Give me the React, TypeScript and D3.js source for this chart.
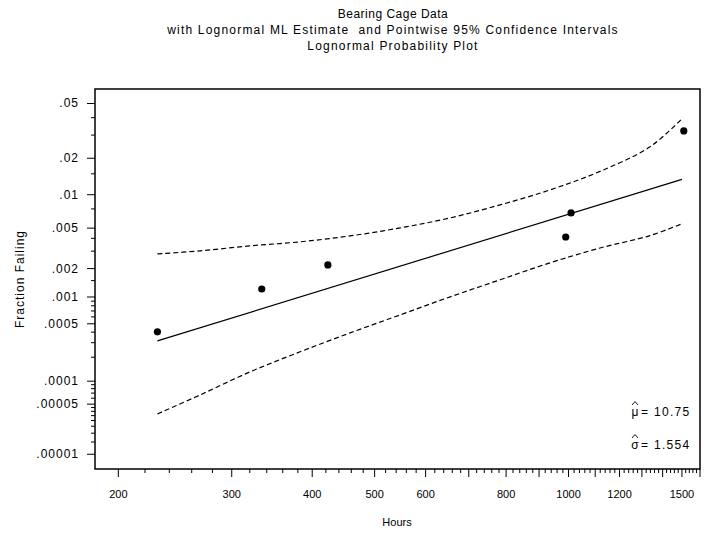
import React from "react";
import * as d3 from "d3";

// ---- data (hours, fraction failing) ----
const failureHours = [230, 334, 423, 990, 1009, 1510];
const failureFraction = [0.000403, 0.00122, 0.00218, 0.00412, 0.00691, 0.0322];

// ML fit endpoints (lognormal, mu=10.75, sigma=1.554)
const fitHours = [230, 1500];
const fitFraction = [0.000315, 0.0135];

// pointwise 95% confidence bands
const bandHours = [230, 268, 320, 383, 458, 548, 655, 783, 936, 1119, 1338, 1500];
const upperFraction = [0.00282, 0.00302, 0.00338, 0.0037, 0.00422, 0.00503, 0.00622, 0.00815, 0.011, 0.0157, 0.0245, 0.0393];
const lowerFraction = [0.0000369, 0.0000663, 0.000131, 0.000233, 0.000392, 0.000633, 0.001004, 0.00153, 0.00229, 0.00322, 0.00425, 0.00549];

// ticks
const xLabelTicks = [200, 300, 400, 500, 600, 800, 1000, 1200, 1500];
const xMajorTicks = d3.range(200, 1601, 100);
const xMinorTicks = d3.range(200, 1601, 20).filter((v) => v % 100 !== 0);
const yLabelTicks = [0.05, 0.02, 0.01, 0.005, 0.002, 0.001, 0.0005, 0.0001, 0.00005, 0.00001];
const yLabelText = [".05", ".02", ".01", ".005", ".002", ".001", ".0005", ".0001", ".00005", ".00001"];
const yMinorTicks = [0.04, 0.03, 0.015, 0.0075, 0.004, 0.003, 0.0015, 0.0009, 0.0008, 0.0007, 0.0006, 0.0004, 0.0003, 0.0002, 0.00009, 0.00008, 0.00007, 0.00006, 0.000045, 0.00004, 0.000035, 0.00003, 0.000025, 0.00002, 0.000015];

const titleLines = ["Bearing Cage Data", "with Lognormal ML Estimate  and Pointwise 95% Confidence Intervals", "Lognormal Probability Plot"];
const titleSpacing = [0.5, 1.2, 1.2];
const xTitle = "Hours";
const yTitle = "Fraction Failing";
const muText = "= 10.75";
const sigmaText = "= 1.554";

// inverse standard normal CDF (Acklam) - used for the probability axis transform
function qnorm(p: number): number {
  const a = [-3.969683028665376e1, 2.209460984245205e2, -2.759285104469687e2, 1.38357751867269e2, -3.066479806614716e1, 2.506628277459239];
  const b = [-5.447609879822406e1, 1.615858368580409e2, -1.556989798598866e2, 6.680131188771972e1, -1.328068155288572e1];
  const c = [-7.784894002430293e-3, -3.223964580411365e-1, -2.400758277161838, -2.549732539343734, 4.374664141464968, 2.938163982698783];
  const d = [7.784695709041462e-3, 3.224671290700398e-1, 2.445134137142996, 3.754408661907416];
  const plow = 0.02425;
  if (p < plow) {
    const q = Math.sqrt(-2 * Math.log(p));
    return (((((c[0] * q + c[1]) * q + c[2]) * q + c[3]) * q + c[4]) * q + c[5]) / ((((d[0] * q + d[1]) * q + d[2]) * q + d[3]) * q + 1);
  }
  if (p <= 1 - plow) {
    const q = p - 0.5, r = q * q;
    return ((((((a[0] * r + a[1]) * r + a[2]) * r + a[3]) * r + a[4]) * r + a[5]) * q) / (((((b[0] * r + b[1]) * r + b[2]) * r + b[3]) * r + b[4]) * r + 1);
  }
  const q = Math.sqrt(-2 * Math.log(1 - p));
  return -(((((c[0] * q + c[1]) * q + c[2]) * q + c[3]) * q + c[4]) * q + c[5]) / ((((d[0] * q + d[1]) * q + d[2]) * q + d[3]) * q + 1);
}

const W = 714, H = 538;
const L = 95, R = 700, T = 89, B = 469;
const FONT = "'Liberation Sans', Arial, Helvetica, sans-serif";

export default function App() {
  const x = d3.scaleLog().domain([184, 1600]).range([L, R]);
  const z = d3.scaleLinear().domain([qnorm(0.0622), qnorm(0.00000607)]).range([T, B]);
  const y = (p: number) => z(qnorm(p));

  const line = d3.line<[number, number]>().x((d) => x(d[0])).y((d) => y(d[1]));
  const curve = d3.line<[number, number]>().x((d) => x(d[0])).y((d) => y(d[1])).curve(d3.curveCatmullRom.alpha(0.5));

  const fit: [number, number][] = fitHours.map((h, i) => [h, fitFraction[i]]);
  const up: [number, number][] = bandHours.map((h, i) => [h, upperFraction[i]]);
  const lo: [number, number][] = bandHours.map((h, i) => [h, lowerFraction[i]]);

  const annX = 635;
  const muBase = 416;
  const sigBase = 449;
  const hat = (base: number) => `M${annX - 3},${base - 11} L${annX},${base - 14.5} L${annX + 3},${base - 11}`;

  return (
    <svg width={W} height={H} style={{ position: "absolute", left: 0, top: 0, background: "#fff" }} fontFamily={FONT}>
      <rect x={0} y={0} width={W} height={H} fill="#fff" />
      {titleLines.map((t, i) => (
        <text key={i} x={393} y={18 + i * 16} textAnchor="middle" fontSize={12} letterSpacing={titleSpacing[i]} fill="#000" style={{ whiteSpace: "pre" }}>{t}</text>
      ))}
      {/* frame */}
      <rect x={L} y={T} width={R - L} height={B - T} fill="none" stroke="#000" strokeWidth={1.5} />
      {/* x ticks */}
      {xMajorTicks.map((v) => (
        <line key={"xM" + v} x1={x(v)} x2={x(v)} y1={B} y2={B + 8} stroke="#000" strokeWidth={1} />
      ))}
      {xMinorTicks.map((v) => (
        <line key={"xm" + v} x1={x(v)} x2={x(v)} y1={B} y2={B + 4} stroke="#000" strokeWidth={1} />
      ))}
      {xLabelTicks.map((v) => (
        <text key={"xl" + v} x={x(v)} y={498} textAnchor="middle" fontSize={11} fill="#000">{v}</text>
      ))}
      <text x={397} y={526} textAnchor="middle" fontSize={11} fill="#000">{xTitle}</text>
      {/* y ticks */}
      {yLabelTicks.map((p, i) => (
        <g key={"yM" + i}>
          <line x1={L - 8} x2={L} y1={y(p)} y2={y(p)} stroke="#000" strokeWidth={1} />
          <text x={79} y={y(p) + 4} textAnchor="end" fontSize={12} letterSpacing={1} fill="#000">{yLabelText[i]}</text>
        </g>
      ))}
      {yMinorTicks.map((p, i) => (
        <line key={"ym" + i} x1={L - 4} x2={L} y1={y(p)} y2={y(p)} stroke="#000" strokeWidth={1} />
      ))}
      <text transform={`translate(24,${(T + B) / 2}) rotate(-90)`} textAnchor="middle" fontSize={12} letterSpacing={1} fill="#000">{yTitle}</text>
      {/* confidence bands */}
      <path d={curve(up) || ""} fill="none" stroke="#000" strokeWidth={1.2} strokeDasharray="5,3" />
      <path d={curve(lo) || ""} fill="none" stroke="#000" strokeWidth={1.2} strokeDasharray="5,3" />
      {/* fit */}
      <path d={line(fit) || ""} fill="none" stroke="#000" strokeWidth={1.2} />
      {/* points */}
      {failureHours.map((h, i) => (
        <circle key={"pt" + i} cx={x(h)} cy={y(failureFraction[i])} r={3.6} fill="#000" />
      ))}
      {/* parameter annotations */}
      <text x={annX} y={muBase} textAnchor="middle" fontSize={12} fill="#000">μ</text>
      <path d={hat(muBase)} fill="none" stroke="#000" strokeWidth={0.9} />
      <text x={annX + 6} y={muBase} fontSize={12} letterSpacing={1.3} fill="#000">{muText}</text>
      <text x={annX} y={sigBase} textAnchor="middle" fontSize={12} fill="#000">σ</text>
      <path d={hat(sigBase)} fill="none" stroke="#000" strokeWidth={0.9} />
      <text x={annX + 6} y={sigBase} fontSize={12} letterSpacing={1.3} fill="#000">{sigmaText}</text>
    </svg>
  );
}
